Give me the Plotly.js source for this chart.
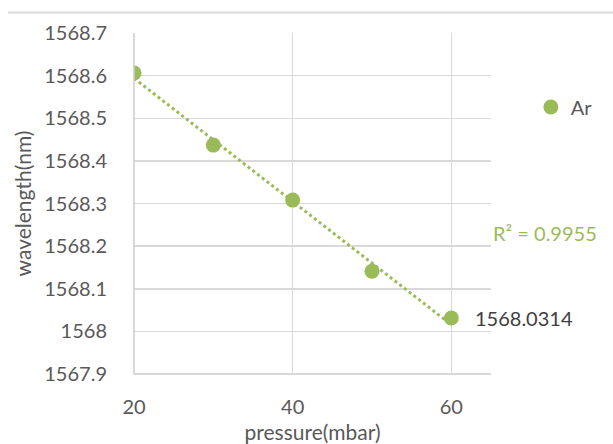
<!DOCTYPE html>
<html><head><meta charset="utf-8">
<script src="https://cdn.plot.ly/plotly-3.0.1.min.js"></script>
<style>html,body{margin:0;padding:0;background:#fff}#chart{width:613px;height:444px}</style>
</head><body><div id="chart"></div>
<script>
var pressure = [20, 30, 40, 50, 60];
var wavelength = [1568.606, 1568.437, 1568.308, 1568.141, 1568.0314];
var yTicks = [1567.9, 1568, 1568.1, 1568.2, 1568.3, 1568.4, 1568.5, 1568.6, 1568.7];
var yTickText = ['1567.9','1568','1568.1','1568.2','1568.3','1568.4','1568.5','1568.6','1568.7'];
var xTicks = [20, 40, 60];
var seriesName = 'Ar';
var r2Text = 'R² = 0.9955';
var lastLabel = '1568.0314';

// least-squares trendline
var n = pressure.length, sx=0, sy=0, sxx=0, sxy=0;
for (var i=0;i<n;i++){sx+=pressure[i];sy+=wavelength[i];sxx+=pressure[i]*pressure[i];sxy+=pressure[i]*wavelength[i];}
var slope = (n*sxy - sx*sy)/(n*sxx - sx*sx);
var icpt = (sy - slope*sx)/n;
var tx = [pressure[0], pressure[n-1]];
var ty = tx.map(function(x){return icpt + slope*x;});

var green = '#9BBB59';
var font = 'Lato, "Open Sans", sans-serif';
var data = [
  {x: tx, y: ty, mode:'lines', line:{color:green, width:3, dash:'dot'}, showlegend:false, hoverinfo:'skip'},
  {x: pressure, y: wavelength, mode:'markers', name: seriesName, marker:{color:green, size:15}}
];
var layout = {
  width:613, height:444,
  margin:{l:134, r:122, t:33, b:70},
  paper_bgcolor:'#fff', plot_bgcolor:'#fff',
  font:{family:font, color:'#595959', size:20},
  xaxis:{range:[20,65], tickvals:xTicks, showgrid:true, gridcolor:'#d9d9d9', gridwidth:1.5,
    zeroline:false, showline:false, ticks:'outside', ticklen:15, tickcolor:'rgba(0,0,0,0)',
    tickfont:{size:20, color:'#595959'},
    title:{text:'pressure(mbar)', font:{size:21, color:'#595959'}, standoff:20}},
  yaxis:{range:[1567.9,1568.7], tickvals:yTicks, ticktext:yTickText, showgrid:true, gridcolor:'#d9d9d9', gridwidth:1.5,
    zeroline:false, showline:false, ticks:'outside', ticklen:22, tickcolor:'rgba(0,0,0,0)',
    tickfont:{size:20, color:'#595959'},
    title:{text:'wavelength(nm)', font:{size:21, color:'#595959'}, standoff:6}},
  legend:{xref:'container', yref:'container', x:0.866, y:0.759, xanchor:'left', yanchor:'middle',
    font:{size:20, color:'#595959'}, bgcolor:'rgba(0,0,0,0)', itemwidth:30},
  shapes:[
    {type:'line', xref:'paper', yref:'paper', x0:-0.353, x1:1.35, y0:1.06, y1:1.06, line:{color:'#d9d9d9', width:2}},
    {type:'line', xref:'paper', yref:'paper', x0:0, x1:0, y0:0, y1:1, line:{color:'#cccccc', width:1.5}},
    {type:'line', xref:'paper', yref:'paper', x0:0, x1:1, y0:0, y1:0, line:{color:'#cccccc', width:1.5}}
  ],
  annotations:[
    {xref:'paper', yref:'paper', x:1.0, y:0.413, xanchor:'left', yanchor:'middle', text:r2Text, showarrow:false, font:{size:20, color:green}},
    {x:pressure[n-1], y:wavelength[n-1], xanchor:'left', yanchor:'middle', xshift:22, text:lastLabel, showarrow:false, font:{size:20, color:'#404040'}}
  ]
};
Plotly.newPlot('chart', data, layout, {displayModeBar:false, staticPlot:true});
</script></body></html>
